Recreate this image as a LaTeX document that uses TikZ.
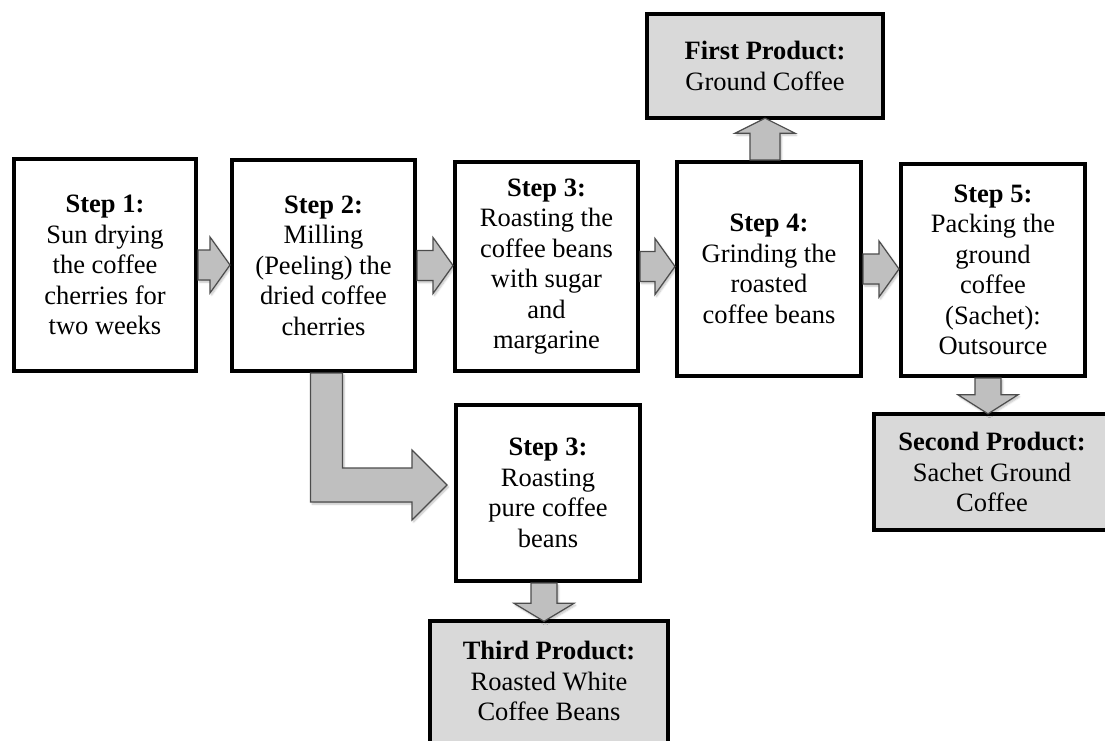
\documentclass[tikz,border=0pt]{standalone}
\usepackage{fontspec}
\setmainfont{Liberation Serif}
\usetikzlibrary{calc,shadows.blur}

\tikzset{
  boxfont/.style={font=\fontsize{26.5}{30.5}\selectfont},
  stepbox/.style={draw=black, line width=4pt, fill=white, align=center,
    inner sep=0pt, boxfont},
  prodtext/.style={fill=gray!30, align=center, inner sep=0pt, boxfont},
  prodframe/.style={draw=black, line width=4pt},
  blockarrow/.style={fill=gray!50, draw=black!70, line width=1.2pt,
    line join=miter,
    blur shadow={shadow xshift=1.5pt, shadow yshift=-2pt,
      shadow blur steps=6, shadow opacity=25}},
}

\begin{document}
\begin{tikzpicture}[x=1pt,y=-1pt]
\path[use as bounding box, clip] (0,0) rectangle (1105,740);

% process steps
\node[stepbox, minimum width=182pt, minimum height=212pt] (s1) at (105,265)
  {\textbf{Step 1:}\\Sun drying\\the coffee\\cherries for\\two weeks};
\node[stepbox, minimum width=183pt, minimum height=211pt] (s2) at (323.5,265.5)
  {\textbf{Step 2:}\\Milling\\(Peeling) the\\dried coffee\\cherries};
\node[stepbox, minimum width=183pt, minimum height=209pt] (s3) at (546.5,266.5)
  {\textbf{Step 3:}\\Roasting the\\coffee beans\\with sugar\\and\\margarine};
\node[stepbox, minimum width=184pt, minimum height=214pt] (s4) at (769,269)
  {\textbf{Step 4:}\\Grinding the\\roasted\\coffee beans};
\node[stepbox, minimum width=184pt, minimum height=212pt] (s5) at (993,270)
  {\textbf{Step 5:}\\Packing the\\ground\\coffee\\(Sachet):\\Outsource};
\node[stepbox, minimum width=184pt, minimum height=176pt] (s3b) at (548,493)
  {\textbf{Step 3:}\\Roasting\\pure coffee\\beans};

% products; the second and third frames run off the page edge
\node[prodtext, minimum width=236pt, minimum height=104pt] (p1) at (765,66)
  {\textbf{First Product:}\\Ground Coffee};
\node[prodtext, minimum width=236pt, minimum height=116pt] (p2) at (992,472)
  {\textbf{Second Product:}\\Sachet Ground\\Coffee};
\node[prodtext, minimum width=238pt, minimum height=119pt] (p3) at (549,681)
  {\textbf{Third Product:}\\Roasted White\\Coffee Beans};
\draw[prodframe] (p1.north west) rectangle (p1.south east);
\draw[prodframe] (p2.north west) rectangle ($(p2.south east)+(30,0)$);
\draw[prodframe] (p3.north west) rectangle ($(p3.south east)+(0,30)$);

% horizontal block arrows between steps
\foreach \a/\b in {s1/s2, s2/s3, s3/s4, s4/s5}{
  \draw[blockarrow] let \p1=(\a.east), \p2=(\b.west) in
    (\x1,\y1+15pt) -- ({\x2-20pt},\y1+15pt) -- ({\x2-20pt},\y1+28pt)
    -- (\x2,\y1) -- ({\x2-20pt},\y1-28pt) -- ({\x2-20pt},\y1-15pt)
    -- (\x1,\y1-15pt) -- cycle;
}

% up arrow: grinding -> ground coffee
\draw[blockarrow] let \p1=(p1.south |- s4.north), \p2=(p1.south) in
  ({\x1-15pt},\y1) -- ({\x1-15pt},\y2-15pt) -- ({\x1-30pt},\y2-15pt)
  -- (\x2,\y2) -- ({\x1+30pt},\y2-15pt) -- ({\x1+15pt},\y2-15pt)
  -- ({\x1+15pt},\y1) -- cycle;

% down arrow: packing -> sachet ground coffee
\draw[blockarrow] let \p1=($(s5.south)+(-5,0)$), \p2=(p2.north -| \p1) in
  ({\x1-13pt},\y1) -- ({\x1-13pt},\y2+19pt) -- ({\x1-30pt},\y2+19pt)
  -- (\x1,\y2) -- ({\x1+30pt},\y2+19pt) -- ({\x1+13pt},\y2+19pt)
  -- ({\x1+13pt},\y1) -- cycle;

% down arrow: roasting pure beans -> roasted white coffee beans
\draw[blockarrow] let \p1=($(s3b.south)+(-4,0)$), \p2=(p3.north -| \p1) in
  ({\x1-13pt},\y1) -- ({\x1-13pt},\y2+18pt) -- ({\x1-30pt},\y2+18pt)
  -- (\x1,\y2) -- ({\x1+30pt},\y2+18pt) -- ({\x1+13pt},\y2+18pt)
  -- ({\x1+13pt},\y1) -- cycle;

% bent arrow: milling -> roasting pure beans
\coordinate (ltip) at ($(s3b.west)+(-7,-8)$);
\draw[blockarrow] let \p1=($(s2.south)+(3,0)$), \p2=(ltip) in
  ({\x1-16pt},\y1) -- ({\x1-16pt},\y2-17pt) -- ({\x2-35pt},\y2-17pt)
  -- ({\x2-35pt},\y2-35pt) -- (\x2,\y2) -- ({\x2-35pt},\y2+35pt)
  -- ({\x2-35pt},\y2+17pt) -- ({\x1+16pt},\y2+17pt)
  -- ({\x1+16pt},\y1) -- cycle;
\end{tikzpicture}
\end{document}
